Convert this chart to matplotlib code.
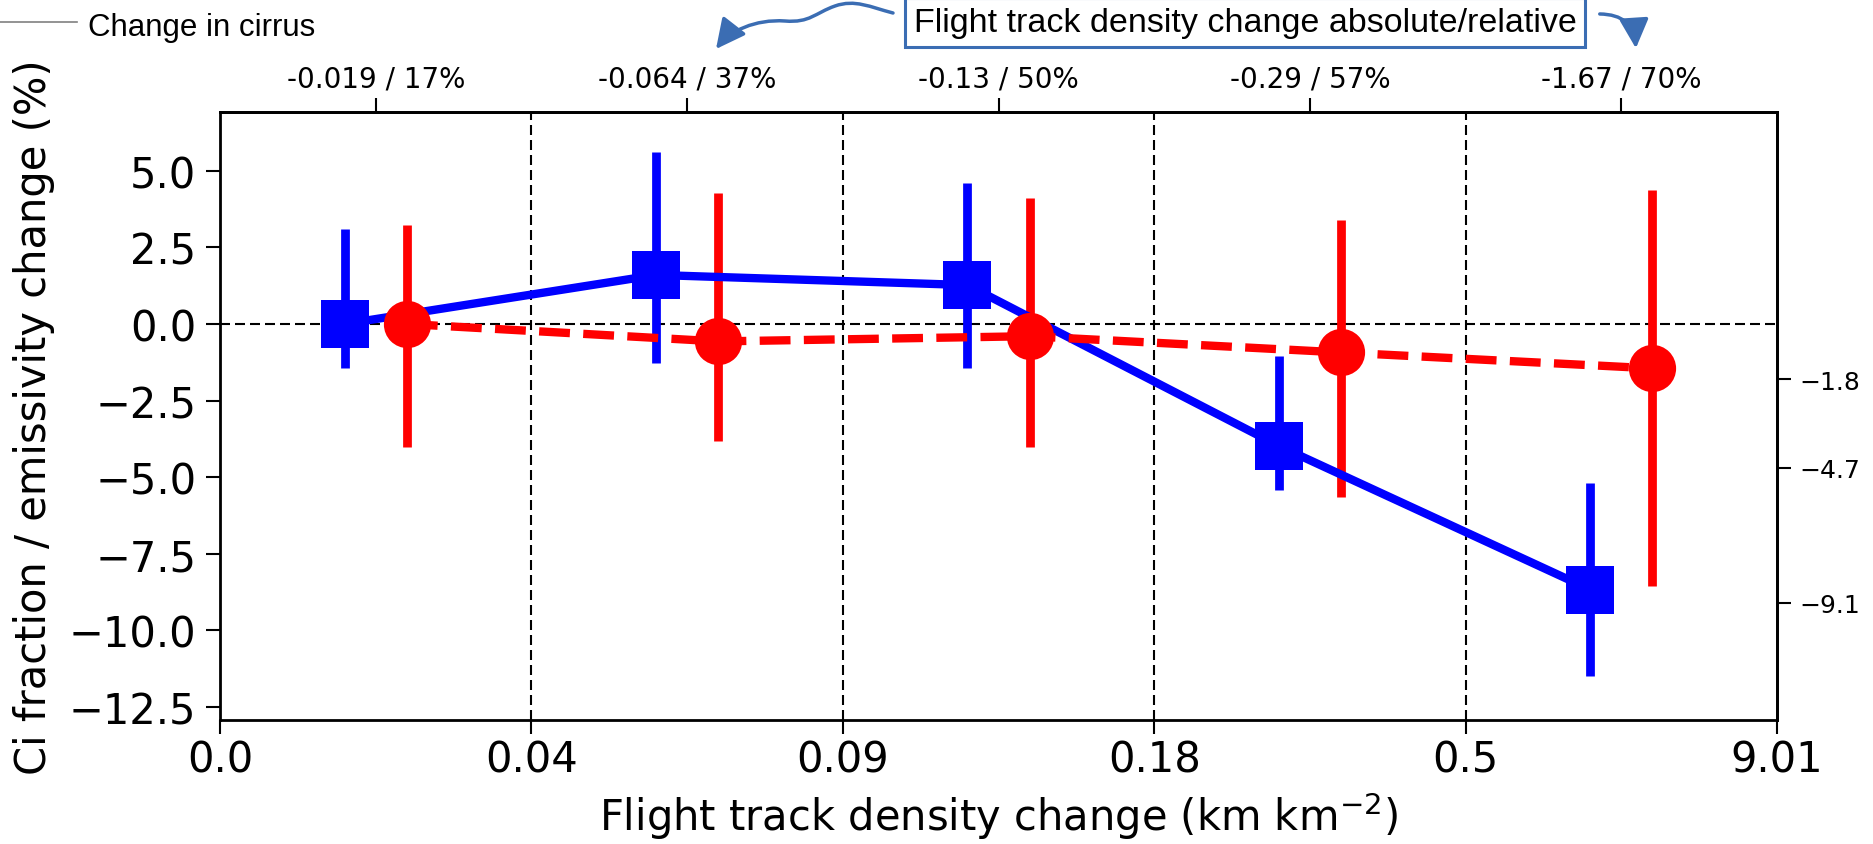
import numpy as np
import matplotlib
matplotlib.use("Agg")
import matplotlib.pyplot as plt
from matplotlib.lines import Line2D
from matplotlib.patches import FancyArrowPatch
from matplotlib.path import Path

# bottom axis: bin edges of flight track density change (km km-2)
edge_labels = ["0.0", "0.04", "0.09", "0.18", "0.5", "9.01"]
# top axis: absolute / relative change in each bin
bin_labels = ["-0.019 / 17%", "-0.064 / 37%", "-0.13 / 50%", "-0.29 / 57%", "-1.67 / 70%"]

# Ci fraction change (%), blue squares, solid line
frac = [0.0, 1.60, 1.27, -3.98, -8.67]
frac_lo = [-1.45, -1.29, -1.45, -5.41, -11.48]
frac_hi = [3.10, 5.62, 4.60, -1.06, -5.19]

# emissivity change (%), red circles, dashed line
emis = [0.0, -0.57, -0.40, -0.93, -1.45]
emis_lo = [-4.01, -3.83, -4.03, -5.66, -8.56]
emis_hi = [3.24, 4.27, 4.11, 3.39, 4.38]

# right axis marks
right_ticks = [-1.8, -4.7, -9.1]

W, H = 1874, 845
fig = plt.figure(figsize=(W / 100, H / 100), dpi=100)
ax = fig.add_axes([220 / W, 1 - 721 / H, 1557 / W, 608 / H])

centers = np.arange(len(bin_labels)) + 0.5
xb = centers - 0.1
xr = centers + 0.1

for x in range(1, len(edge_labels) - 1):
    ax.axvline(x, color="k", lw=1.5, ls=(0, (4.8, 2.4)), zorder=1)
ax.axhline(0, color="k", lw=1.5, ls=(0, (4.8, 2.4)), zorder=1)

frac = np.array(frac)
emis = np.array(emis)
ax.errorbar(xb, frac, yerr=[frac - np.array(frac_lo), np.array(frac_hi) - frac],
            fmt="none", ecolor="#0000ff", elinewidth=6.3, capsize=0, zorder=2)
ax.errorbar(xr, emis, yerr=[emis - np.array(emis_lo), np.array(emis_hi) - emis],
            fmt="none", ecolor="#ff0000", elinewidth=6.3, capsize=0, zorder=2)
ax.plot(xb, frac, color="#0000ff", lw=6, marker="s", ms=34, mew=0, zorder=3)
ax.plot(xr, emis, color="#ff0000", lw=6, ls="--", marker="o", ms=34, mew=0, zorder=4)

ax.set_xlim(0, 5)
ax.set_ylim(-12.93, 6.92)
ax.set_xticks(range(len(edge_labels)))
ax.set_xticklabels(edge_labels)
ax.set_yticks([5.0, 2.5, 0.0, -2.5, -5.0, -7.5, -10.0, -12.5])
ax.tick_params(axis="x", labelsize=30, length=10, width=1.5, pad=3.5)
ax.tick_params(axis="y", labelsize=30, length=10, width=1.5, pad=7)
for s in ax.spines.values():
    s.set_linewidth(2)

ax.set_xlabel("Flight track density change (km km$^{-2}$)", fontsize=30, labelpad=6)
ax.set_ylabel("Ci fraction / emissivity change (%)", fontsize=30, labelpad=10)

top = ax.secondary_xaxis("top")
top.set_xticks(centers)
top.set_xticklabels(bin_labels)
top.tick_params(labelsize=20, length=10, width=1.5, pad=4)
top.spines["top"].set_linewidth(2)

right = ax.secondary_yaxis("right")
right.set_yticks(right_ticks)
right.set_yticklabels([f"\u2212{abs(v):.1f}" for v in right_ticks])
right.tick_params(labelsize=18, length=10, width=1.5, pad=6)
right.spines["right"].set_linewidth(2)

# "Change in cirrus" key at top left
fig.add_artist(Line2D([0, 77 / W], [1 - 23 / H, 1 - 23 / H], color="#808080", lw=1.2,
                      transform=fig.transFigure))
fig.text(88 / W, 1 - 36 / H, "Change in cirrus", family="Liberation Sans", fontsize=22.5,
         ha="left", va="baseline")

# boxed annotation with arrows pointing to the top axis
arrow_col = "#3b6db3"
fig.text(1245 / W, 1 - 32 / H, "Flight track density change absolute/relative",
         family="Liberation Sans", fontsize=24.5, ha="center", va="baseline",
         bbox=dict(boxstyle="square,pad=0.25", fc="white", ec=arrow_col, lw=2.2))

def fpt(x, y):
    return (x / W, 1 - y / H)

verts = [fpt(893, 14), fpt(870, 8), fpt(855, 0), fpt(835, 7),
         fpt(815, 14), fpt(810, 24), fpt(785, 22),
         fpt(755, 20), fpt(730, 32), fpt(716, 50)]
codes = [Path.MOVETO] + [Path.CURVE4] * 9
left_arrow = FancyArrowPatch(path=Path(verts, codes), transform=fig.transFigure,
                             arrowstyle="-|>,head_length=0.9,head_width=0.45",
                             mutation_scale=20, color=arrow_col, lw=2.5)
fig.add_artist(left_arrow)

right_arrow = FancyArrowPatch(fpt(1597, 15), fpt(1636, 52), transform=fig.transFigure,
                              connectionstyle="arc3,rad=-0.5",
                              arrowstyle="-|>,head_length=0.9,head_width=0.45",
                              mutation_scale=20, color=arrow_col, lw=2.5)
fig.add_artist(right_arrow)

fig.savefig("out.png", dpi=100, facecolor="white")
